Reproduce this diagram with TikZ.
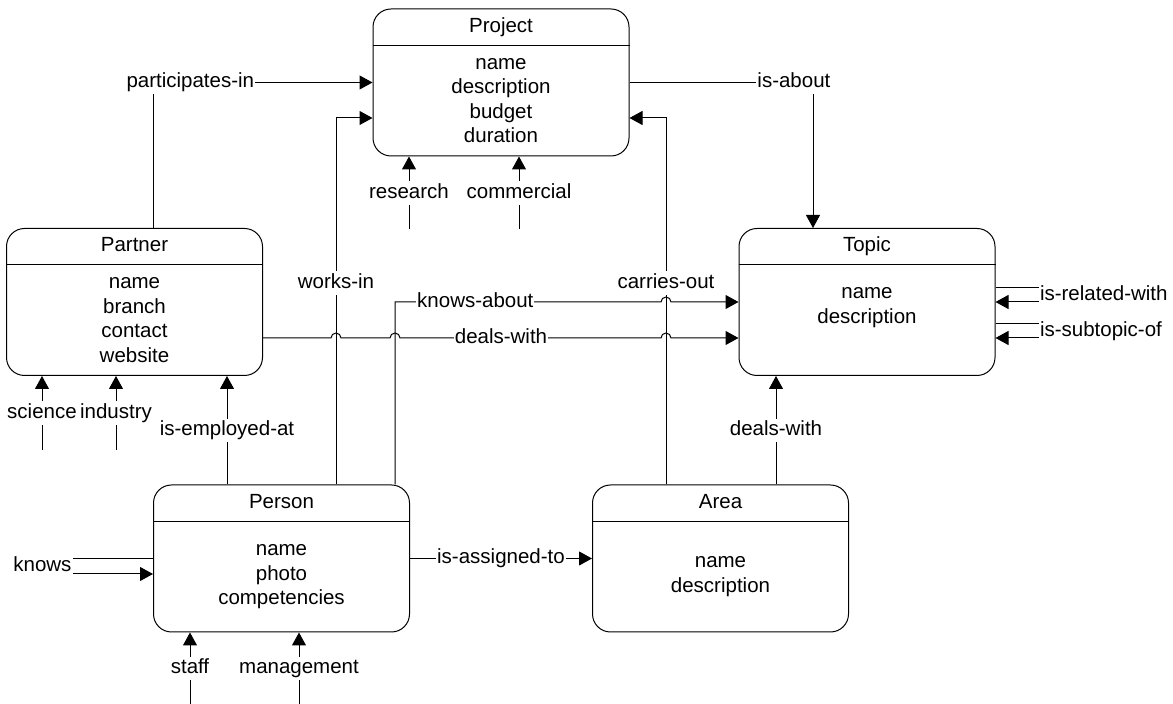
\documentclass[tikz,border=0pt]{standalone}
\usepackage{fontspec}
\setmainfont{Liberation Sans}
\usetikzlibrary{arrows.meta}

\begin{document}
\begin{tikzpicture}[
    x=0.5pt, y=-0.5pt,
    font=\fontsize{10.25}{12.25}\selectfont,
    line width=0.5pt,
    entity/.style={draw, rounded corners=9pt, minimum width=128pt, minimum height=73.5pt, inner sep=0pt},
    title/.style={text height=7.5pt, text depth=2.1pt},
    attrs/.style={align=center, inner sep=0pt},
    lbl/.style={fill=white, inner xsep=0.5pt, inner ysep=1pt, text height=7.5pt, text depth=2.1pt},
    arr/.style={-{Triangle[length=6.5pt, width=7pt]}}]
  \useasboundingbox (0,0) rectangle (1173,704);
  % entities
  \node[entity] (project) at (501,82.5) {};
  \node[entity] (partner) at (134.5,302) {};
  \node[entity] (topic) at (867,302) {};
  \node[entity] (person) at (281.5,558.5) {};
  \node[entity] (area) at (720.5,558.5) {};
  \foreach \e in {project,partner,topic,person,area}
    \draw ([yshift=-18.5pt]\e.north west) -- ([yshift=-18.5pt]\e.north east);
  \node[title] (project-title) at ([yshift=-9.25pt]project.north) {Project};
  \node[title] (partner-title) at ([yshift=-9.25pt]partner.north) {Partner};
  \node[title] (topic-title) at ([yshift=-9.25pt]topic.north) {Topic};
  \node[title] (person-title) at ([yshift=-9.25pt]person.north) {Person};
  \node[title] (area-title) at ([yshift=-9.25pt]area.north) {Area};
  \node[attrs] (project-attrs) at ([yshift=-9pt]project.center) {name\\description\\budget\\duration};
  \node[attrs] (partner-attrs) at ([yshift=-9pt]partner.center) {name\\branch\\contact\\website};
  \node[attrs] (topic-attrs) at ([yshift=-2.75pt]topic.center) {name\\description};
  \node[attrs] (person-attrs) at ([yshift=-9.25pt]person.center) {name\\photo\\competencies};
  \node[attrs] (area-attrs) at ([yshift=-9pt]area.center) {name\\description};
  % free ends of the subtype stubs
  \coordinate (science-tail) at ([xshift=-46.25pt, yshift=-37pt]partner.south);
  \coordinate (industry-tail) at ([xshift=-9.25pt, yshift=-37pt]partner.south);
  \coordinate (research-tail) at ([xshift=-46pt, yshift=-36.5pt]project.south);
  \coordinate (commercial-tail) at ([xshift=9pt, yshift=-36.5pt]project.south);
  \coordinate (staff-tail) at ([xshift=-45.75pt, yshift=-36pt]person.south);
  \coordinate (management-tail) at ([xshift=8.75pt, yshift=-36pt]person.south);
  % relations
  \draw[arr] ([xshift=9.25pt]partner.north) |- node[lbl, pos=0.585]{participates-in} (project.west);
  \draw[arr] ([xshift=27.25pt]person.north) |- node[lbl, pos=0.275]{works-in} ([yshift=-17.75pt]project.west);
  \draw[arr] ([xshift=-27.25pt]area.north) |- node[lbl, pos=0.275]{carries-out} ([yshift=-17.75pt]project.east);
  \draw[arr] (project.east) -| node[lbl, pos=0.448]{is-about} ([xshift=-27pt]topic.north);
  \draw[arr] ([xshift=56.75pt]person.north) |- node[lbl, pos=0.651]{knows-about} (661,302)
    arc[start angle=180, end angle=0, radius=2.5pt] -- (topic.west);
  \draw[arr] ([yshift=-18pt]partner.east) -- (331,338)
    arc[start angle=180, end angle=0, radius=2.5pt] -- (390,338)
    arc[start angle=180, end angle=0, radius=2.5pt] -- node[lbl, pos=0.387]{deals-with} (661,338)
    arc[start angle=180, end angle=0, radius=2.5pt] -- ([yshift=-18pt]topic.west);
  \draw[arr] ([xshift=27.75pt]area.north) -- node[lbl]{deals-with} ([xshift=-45.5pt]topic.south);
  \draw[arr] (person.east) -- node[lbl]{is-assigned-to} (area.west);
  \draw[arr] ([xshift=-27.25pt]person.north) -- node[lbl]{is-employed-at} ([xshift=46.25pt]partner.south);
  % self relations
  \draw[arr] (person.west) -- ++(-82,0) -- node[lbl, anchor=east, xshift=1pt]{knows} ++(0,15.5) -- ([yshift=-7.75pt]person.west);
  \draw[arr] ([yshift=7pt]topic.east) -- ++(45,0) -- node[lbl, anchor=west, xshift=-1pt]{is-related-with} ++(0,14) -- (topic.east);
  \draw[arr] ([yshift=-11pt]topic.east) -- ++(45,0) -- node[lbl, anchor=west, xshift=-1pt]{is-subtopic-of} ++(0,14) -- ([yshift=-18pt]topic.east);
  % subtypes
  \draw[arr] (science-tail) -- node[lbl]{science} (science-tail |- partner.south);
  \draw[arr] (industry-tail) -- node[lbl]{industry} (industry-tail |- partner.south);
  \draw[arr] (research-tail) -- node[lbl]{research} (research-tail |- project.south);
  \draw[arr] (commercial-tail) -- node[lbl]{commercial} (commercial-tail |- project.south);
  \draw[arr] (staff-tail) -- node[lbl]{staff} (staff-tail |- person.south);
  \draw[arr] (management-tail) -- node[lbl]{management} (management-tail |- person.south);
\end{tikzpicture}
\end{document}
